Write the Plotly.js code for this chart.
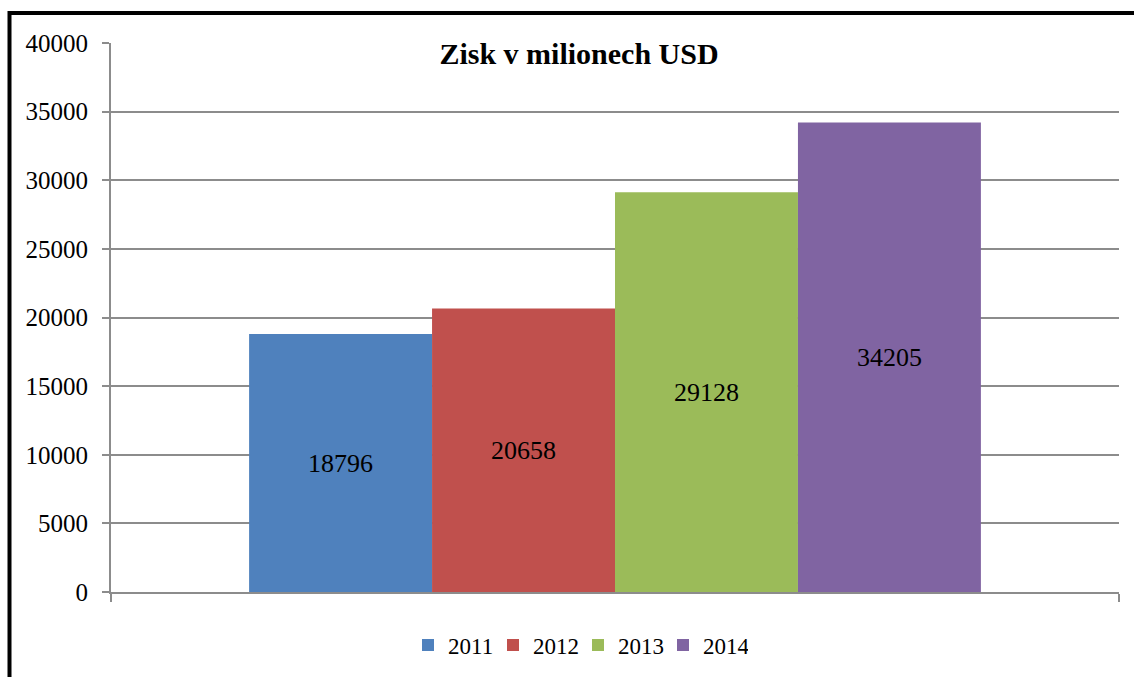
<!DOCTYPE html>
<html><head><meta charset="utf-8">
<script src="https://cdn.plot.ly/plotly-3.0.1.min.js"></script>
<style>html,body{margin:0;padding:0;background:#fff;}#chart{width:1134px;height:677px;}</style>
</head><body><div id="chart"></div>
<script>
const category = ['Zisk'];
const years = ['2011', '2012', '2013', '2014'];
const profits = [18796, 20658, 29128, 34205];
const colors = ['#4F81BD', '#C0504D', '#9BBB59', '#8064A2'];
const titleText = 'Zisk v milionech USD';
const yTicks = [0, 5000, 10000, 15000, 20000, 25000, 30000, 35000, 40000];

const font = 'Liberation Serif';
const traces = years.map((yr, i) => ({
  type: 'bar', name: yr, x: category, y: [profits[i]],
  text: [String(profits[i])], textposition: 'inside', insidetextanchor: 'middle',
  textfont: {family: font, size: 26, color: '#000'},
  marker: {color: colors[i], line: {width: 0}},
  hoverinfo: 'none'
}));

const L = 111, R = 1119, T = 43, B = 593;
const W = R - L, H = B - T;
const layout = {
  width: 1134, height: 677,
  margin: {l: L, r: 1134 - R, t: T, b: 677 - B},
  paper_bgcolor: '#fff', plot_bgcolor: '#fff',
  barmode: 'group', bargap: 0.274, bargroupgap: 0,
  showlegend: true,
  title: {text: '<b>' + titleText + '</b>', font: {family: font, size: 30, color: '#000'},
          xref: 'paper', x: (579 - L) / W, xanchor: 'center', yref: 'container', y: 1 - 53/677, yanchor: 'middle'},
  font: {family: font, color: '#000'},
  xaxis: {type: 'category', showticklabels: false, tickson: 'boundaries', ticks: 'outside', ticklen: 8,
          tickcolor: '#8c8c8c', tickwidth: 2, showgrid: false, showline: true, linecolor: '#8c8c8c', linewidth: 2,
          zeroline: false, fixedrange: true},
  yaxis: {range: [0, 40000], tickvals: yTicks, ticktext: yTicks.map(String), ticks: 'outside', ticklen: 7,
          tickcolor: '#8c8c8c', tickwidth: 2, showgrid: true, gridcolor: '#8c8c8c', gridwidth: 2,
          showline: true, linecolor: '#8c8c8c', linewidth: 2, zeroline: false,
          tickfont: {family: font, size: 25, color: '#000'}, ticklabelstandoff: 9, fixedrange: true},
  legend: {orientation: 'h', x: (578 - L) / W, xanchor: 'center', y: (B - 645) / H, yanchor: 'middle',
           font: {family: font, size: 23, color: '#000'}, traceorder: 'normal', itemclick: false,
           entrywidth: 40, entrywidthmode: 'pixels'},
  shapes: [{type: 'rect', xref: 'paper', yref: 'paper',
            x0: (9.5 - L) / W, x1: (1200 - L) / W, y0: (B - 720) / H, y1: 1 + (T - 13) / H,
            line: {color: '#000', width: 4}, fillcolor: 'rgba(0,0,0,0)', layer: 'above'}]
};
Plotly.newPlot('chart', traces, layout, {displayModeBar: false, staticPlot: true});
</script></body></html>
